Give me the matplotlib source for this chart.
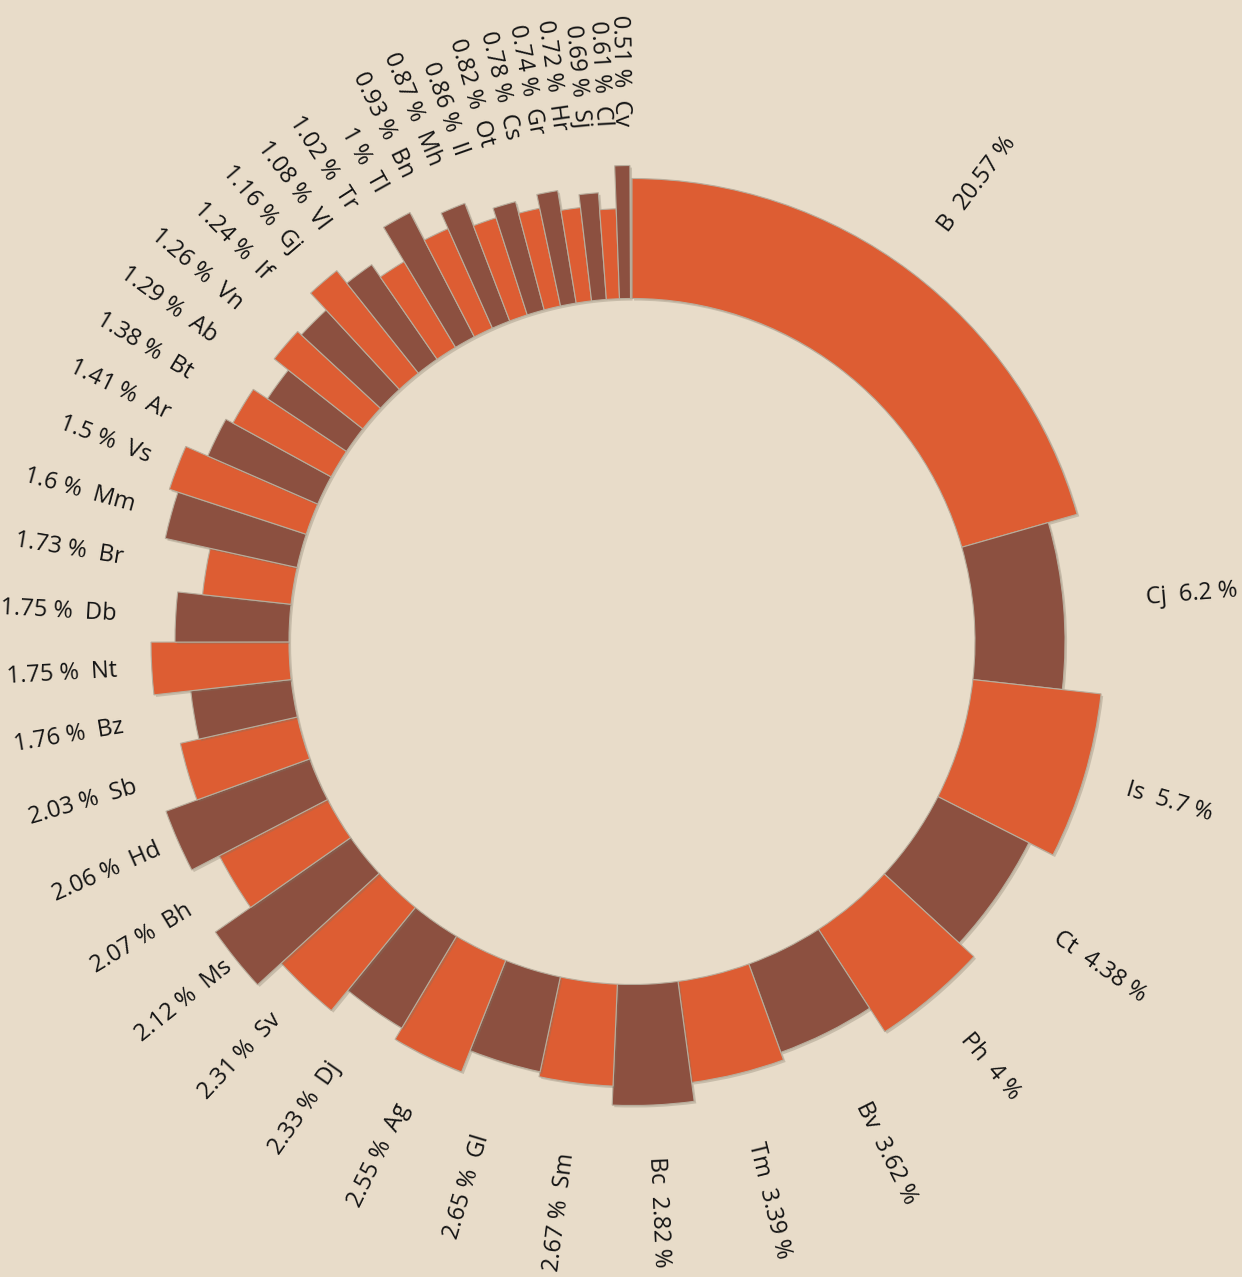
import numpy as np
import matplotlib.pyplot as plt
from matplotlib import patheffects as pe

# data (clockwise from the top)
names = ['B', 'Cj', 'Is', 'Ct', 'Ph', 'Bv', 'Tm', 'Bc', 'Sm', 'Gl', 'Ag', 'Dj',
         'Sv', 'Ms', 'Bh', 'Hd', 'Sb', 'Bz', 'Nt', 'Db', 'Br', 'Mm', 'Vs', 'Ar',
         'Bt', 'Ab', 'Vn', 'If', 'Gj', 'Vl', 'Tr', 'Tl', 'Bn', 'Mh', 'Il', 'Ot',
         'Cs', 'Gr', 'Hr', 'Sj', 'Cl', 'Cv']
shares = [20.57, 6.2, 5.7, 4.38, 4, 3.62, 3.39, 2.82, 2.67, 2.65, 2.55, 2.33,
          2.31, 2.12, 2.07, 2.06, 2.03, 1.76, 1.75, 1.75, 1.73, 1.6, 1.5, 1.41,
          1.38, 1.29, 1.26, 1.24, 1.16, 1.08, 1.02, 1, 0.93, 0.87, 0.86, 0.82,
          0.78, 0.74, 0.72, 0.69, 0.61, 0.51]
# radial length of each bar (beyond the hole)
bar_length = [120, 90, 129, 102, 122, 94, 102, 121, 102, 97, 120, 107,
              133, 165, 122, 153, 120, 101, 138, 114, 89, 135, 144, 120,
              112, 95, 113, 108, 131, 115, 100, 140, 109, 126, 102, 112,
              100, 114, 94, 107, 90, 133]

bg = '#e8dcc9'
orange = '#dd5d33'
brown = '#8c5040'

W, H = 1242, 1277
fig = plt.figure(figsize=(W / 100, H / 100), dpi=100, facecolor=bg)
cx, cy, R = 632, 641.5, 600
ax = fig.add_axes([(cx - R) / W, (H - cy - R) / H, 2 * R / W, 2 * R / H],
                  projection='polar')
ax.set_theta_zero_location('N')
ax.set_theta_direction(-1)
ax.set_ylim(0, R)
ax.set_axis_off()

hole = 343
label_r = 516

shares_arr = np.array(shares)
start = np.concatenate([[0], np.cumsum(shares_arr)[:-1]])
mid_deg = 3.6 * (start + shares_arr / 2)
widths = np.deg2rad(3.6 * shares_arr)
colors = [orange if i % 2 == 0 else brown for i in range(len(names))]

bars = ax.bar(np.deg2rad(mid_deg), bar_length, width=widths, bottom=hole,
              color=colors, edgecolor='#b8ad9c', linewidth=0.8, align='center')
for b in bars:
    b.set_path_effects([pe.SimplePatchShadow(offset=(1.5, -1.5), shadow_rgbFace='#7d7262', alpha=0.3),
                        pe.Normal()])

for name, v, m in zip(names, shares, mid_deg):
    if m < 180:
        txt = f'{name}  {v:g} %'
        rot = 90 - m
        ha = 'left'
    else:
        txt = f'{v:g} %  {name}'
        rot = 270 - m
        ha = 'right'
    ax.text(np.deg2rad(m), label_r, txt, rotation=rot, rotation_mode='anchor',
            ha=ha, va='center', fontsize=17, family='Open Sans', color='#141414')

fig.savefig('out.png', dpi=100, facecolor=bg)
